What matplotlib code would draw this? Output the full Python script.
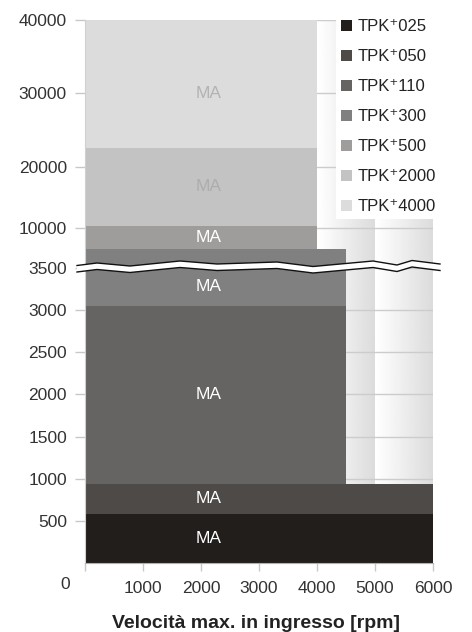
"""plot.py: stepped torque chart for TPK+ series with broken y axis."""

import numpy as np
import matplotlib
matplotlib.use('Agg')
import matplotlib.pyplot as plt
import matplotlib.patches as mpatch
from matplotlib.lines import Line2D

plt.rcParams['font.family'] = ['Liberation Sans', 'DejaVu Sans']

series = ['TPK\u207a025', 'TPK\u207a050', 'TPK\u207a110', 'TPK\u207a300'
        , 'TPK\u207a500', 'TPK\u207a2000', 'TPK\u207a4000']
torque_max = [580, 940, 3050, 6600, 10300, 22600, 40000]
speed_max = [6000, 6000, 4500, 4500, 4000, 4000, 4000]
colors = ['#221e1b', '#4e4a47', '#666462', '#808080', '#9e9d9c', '#c3c3c3', '#dcdcdc']
label_colors = ['white'] * 5 + ['#adadad', '#b3b3b3']

yticks = [500, 1000, 1500, 2000, 2500, 3000, 3500, 10000, 20000, 30000, 40000]
xticks = [0, 1000, 2000, 3000, 4000, 5000, 6000]

# piecewise y axis: real value -> drawn height (pixels above zero in the original)
knots_val = np.array([0, 3500, 10000, 20000, 30000, 40000], dtype=float)
knots_pos = np.array([0, 295, 335, 396, 470, 543], dtype=float)

def fwd(y):
    return np.interp(y, knots_val, knots_pos)

def inv(p):
    return np.interp(p, knots_pos, knots_val)

W, H = 472, 632
fig = plt.figure(figsize=(W / 100., H / 100.), dpi=100)
ax = fig.add_axes([85. / W, (H - 563.) / H, 348. / W, 543. / H])
ax.set_yscale('function', functions=(fwd, inv))

# background bands with white -> grey gradient
grad = np.linspace(1.0, 0.86, 64).reshape(1, -1)
for x0 in xticks[:-1]:
    ax.imshow(grad, cmap='gray', vmin=0, vmax=1, aspect='auto'
            , extent=[x0, x0 + 1000, 0, 1], transform=ax.get_xaxis_transform()
            , zorder=0, interpolation='bilinear')

for t in yticks:
    ax.axhline(t, color='#cccccc', lw=1.0, zorder=1)

# largest first so the smaller ones sit on top
for i in reversed(range(len(series))):
    ax.fill_between([0, speed_max[i]], 0, torque_max[i], color=colors[i]
            , lw=0, zorder=2)

# 'MA' labels centred in the visible part of each band
lows = [0] + torque_max[:-1]
for i in range(len(series)):
    lo, hi = lows[i], torque_max[i]
    if lo < 3500 < hi:
        hi = 3500
    ymid = inv((fwd(lo) + fwd(hi)) / 2.0)
    if i == len(series) - 1:
        ymid = 30000
    ax.text(2140, ymid, 'MA', color=label_colors[i], fontsize=12.5
            , ha='center', va='center', zorder=3)

ax.set_xlim(0, 6000)
ax.set_ylim(0, 40000)
ax.set_yticks(yticks)
ax.set_yticklabels([str(t) for t in yticks])
ax.set_xticks(xticks)
ax.set_xticklabels([''] + [str(t) for t in xticks[1:]])
ax.text(-20. / 58 * 1000, -0.04, '0', transform=ax.get_xaxis_transform()
        , ha='center', va='center', fontsize=12.5, color='#333333')

ax.tick_params(axis='y', direction='out', length=7, width=1, color='#c8c8c8'
        , pad=6, labelsize=12.5, labelcolor='#333333')
ax.tick_params(axis='x', direction='out', length=6, width=1, color='#c8c8c8'
        , pad=7, labelsize=12.5, labelcolor='#333333')
for s in ['top', 'right']:
    ax.spines[s].set_visible(False)
ax.spines['left'].set_color('#d0d0d0')
ax.spines['bottom'].set_color('#b0b0b0')
ax.spines['bottom'].set_zorder(4)

ax.set_xlabel('Velocità max. in ingresso [rpm]', fontsize=14, fontweight='bold'
        , color='#222222')
ax.xaxis.set_label_coords((256. - 85) / 348, -0.096)

handles = [mpatch.Patch(facecolor=c, edgecolor='none') for c in colors]
leg = fig.legend(handles, series, loc='upper left'
        , bbox_to_anchor=(336. / W, 1 - 14. / H), frameon=True, fancybox=False
        , fontsize=12, handlelength=0.65, handleheight=0.65, handletextpad=0.35
        , labelspacing=0.9, borderpad=0.3, borderaxespad=0)
leg.get_frame().set_facecolor('white')
leg.get_frame().set_edgecolor('none')
leg.get_frame().set_alpha(1)
for txt in leg.get_texts():
    txt.set_color('#222222')

# axis break zig-zag, drawn in figure pixels
brk_x = np.array([77, 97, 130, 180, 217, 277, 313, 373, 397, 412, 440], dtype=float)
brk_y = np.array([265.5, 263, 266, 261, 264, 262, 266.5, 261, 265, 260.5, 264])
gap = 6.5
top = np.column_stack([brk_x / W, 1 - brk_y / H])
bot = np.column_stack([brk_x / W, 1 - (brk_y + gap) / H])
fig.add_artist(mpatch.Polygon(np.vstack([top, bot[::-1]]), closed=True
        , facecolor='white', edgecolor='none', transform=fig.transFigure, zorder=5))
for line in (top, bot):
    fig.add_artist(Line2D(line[:, 0], line[:, 1], color='#111111', lw=1.0
            , transform=fig.transFigure, zorder=6))

plt.savefig('out.png', dpi=100)
plt.close()
